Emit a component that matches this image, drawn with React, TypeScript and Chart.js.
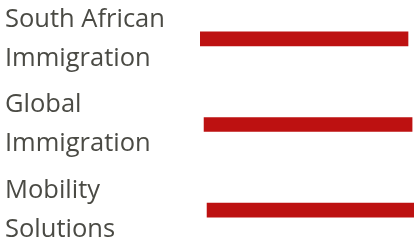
import { useEffect, useRef } from 'react';
import { Chart, registerables } from 'chart.js';
Chart.register(...registerables);

const categories = [
  ['South African', 'Immigration'],
  ['Global', 'Immigration'],
  ['Mobility', 'Solutions'],
];
const barStarts = [0, 1.9, 3.3];
const barEnds = [97.2, 99.1, 100];

export default function App() {
  const ref = useRef<HTMLCanvasElement>(null);
  useEffect(() => {
    document.body.style.margin = '0';
    const chart = new Chart(ref.current!, {
      type: 'bar',
      data: {
        labels: categories,
        datasets: [
          {
            data: barStarts.map((s, i) => [s, barEnds[i]]),
            backgroundColor: '#bd1111',
            barThickness: 14,
          },
        ],
      },
      options: {
        indexAxis: 'y',
        animation: false,
        responsive: true,
        maintainAspectRatio: false,
        layout: { padding: { left: 5, right: 0, top: 0, bottom: 0 } },
        plugins: { legend: { display: false }, tooltip: { enabled: false } },
        scales: {
          x: { display: false, min: 0, max: 100 },
          y: {
            grid: { display: false },
            border: { display: false },
            ticks: {
              crossAlign: 'far',
              color: '#4a4a44',
              padding: 0,
              font: { family: 'Open Sans', size: 25.5, lineHeight: '39px' },
            },
            afterFit: (s: any) => {
              s.width = 195;
              s.paddingTop = 0;
              s.paddingBottom = 0;
            },
          },
        },
      },
    } as any);
    return () => chart.destroy();
  }, []);
  return (
    <div style={{ position: 'absolute', left: 0, top: -4, width: 414, height: 257 }}>
      <canvas ref={ref} />
    </div>
  );
}
